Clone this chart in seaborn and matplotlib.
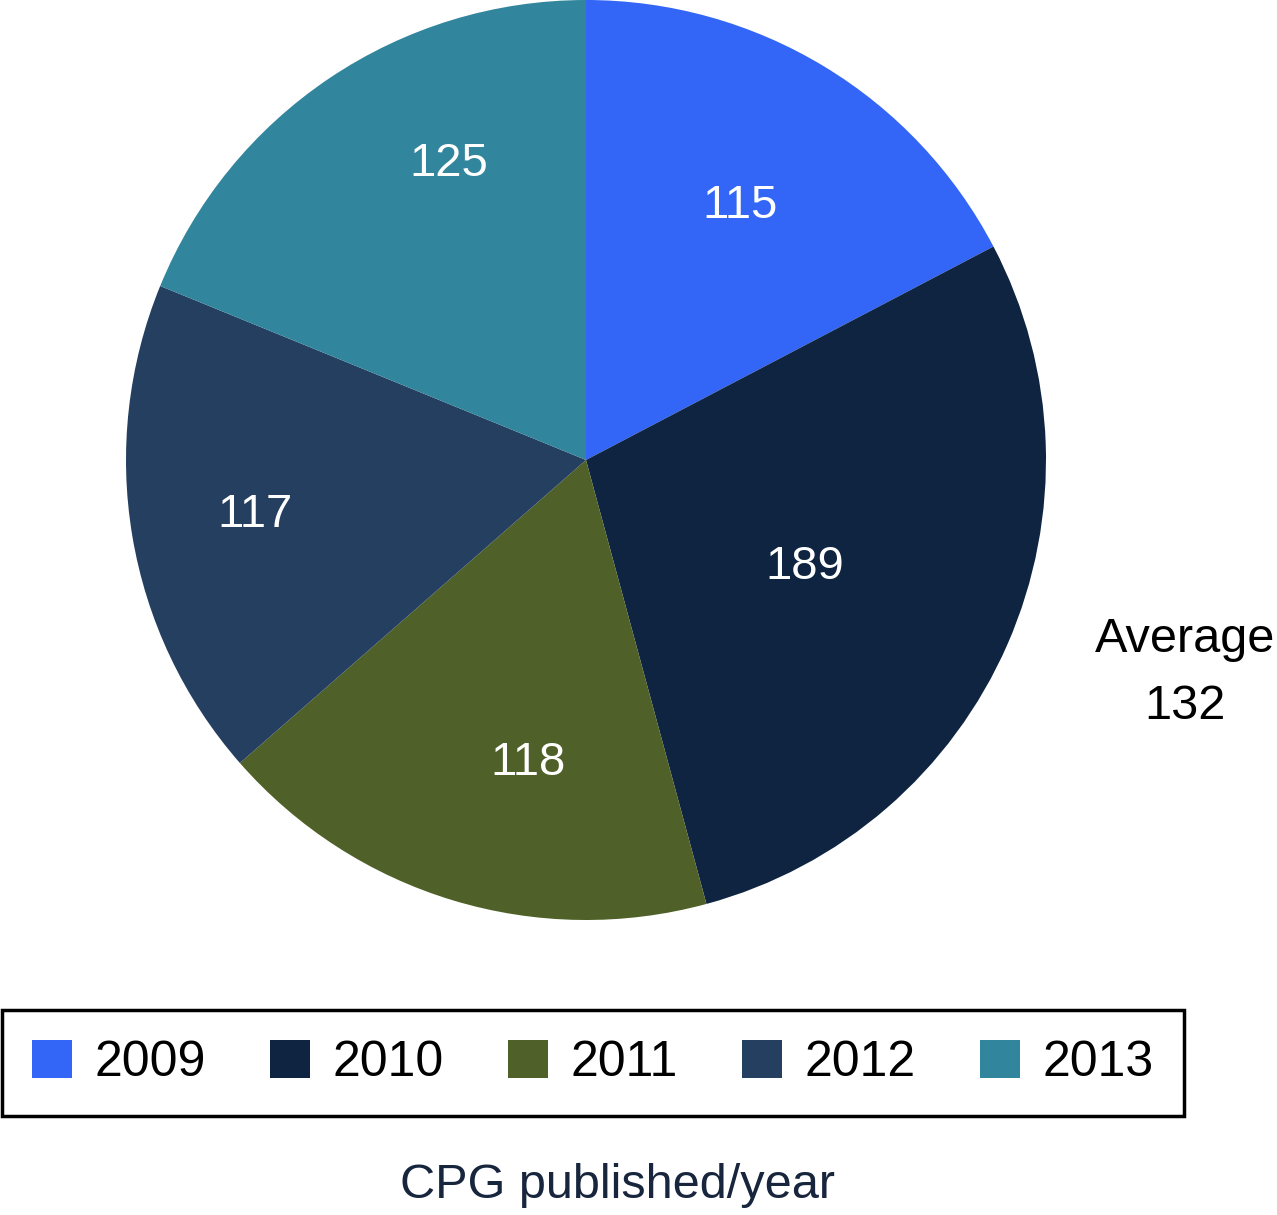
#!/usr/bin/env python3
"""
Pie chart of CPGs published per year (2009-2013)
"""

import numpy as np
import matplotlib
matplotlib.use("Agg")
import matplotlib.pyplot as plt
import seaborn as sns
from matplotlib.patches import Patch

# data
years = ['2009', '2010', '2011', '2012', '2013']
counts = [115, 189, 118, 117, 125]
average_label = 'Average'
average_value = 132
caption = 'CPG published/year'

colors = ['#3366f6', '#0f2440', '#4f6128', '#243f60', '#31859c']

# where each value label sits: fraction of radius, and degrees off the wedge middle
label_radius = [0.645, 0.53, 0.67, 0.73, 0.71]
label_shift = [0, -2.5, 6, 0, -9]

sns.set_theme(style='white')
plt.rcParams['font.family'] = ['Liberation Sans', 'DejaVu Sans']

W, H = 1277, 1215
fig = plt.figure(figsize=(W / 100, H / 100), dpi=100)
fig.patch.set_facecolor('white')

# pie axes: centre (586, 460) px, radius 460 px
cx, cy, r = 586, 460, 460
ax = fig.add_axes([(cx - r) / W, 1 - (cy + r) / H, 2 * r / W, 2 * r / H])
wedges, _ = ax.pie(
    counts,
    colors=colors,
    startangle=90,
    counterclock=False,
    radius=1,
    wedgeprops=dict(linewidth=0, edgecolor='none'),
)
ax.set_xlim(-1, 1)
ax.set_ylim(-1, 1)
ax.set_aspect('auto')
ax.axis('off')

# value labels near each wedge's middle angle
for w, val, rr, sh in zip(wedges, counts, label_radius, label_shift):
    mid = np.deg2rad((w.theta1 + w.theta2) / 2 + sh)
    ax.text(rr * np.cos(mid), rr * np.sin(mid), str(val),
            ha='center', va='center', color='white', fontsize=34)

# average on the right
fig.text(1185 / W, 1 - 673 / H, f'{average_label}\n{average_value}',
         ha='center', va='center', fontsize=35, color='black', linespacing=1.62)

# legend box
handles = [Patch(facecolor=c, edgecolor='none', label=y) for c, y in zip(colors, years)]
leg = fig.legend(
    handles=handles,
    loc='center',
    ncol=5,
    mode='expand',
    bbox_to_anchor=(2 / W, 1 - 1116 / H, 1182 / W, 106 / H),
    bbox_transform=fig.transFigure,
    fontsize=36,
    handlelength=0.8,
    handleheight=0.8,
    handletextpad=0.45,
    borderpad=0.6,
    borderaxespad=0,
    fancybox=False,
    frameon=True,
    framealpha=1,
)
frame = leg.get_frame()
frame.set_edgecolor('black')
frame.set_linewidth(2.5)
for t in leg.get_texts():
    t.set_color('black')

# caption
fig.text(618 / W, 1 - 1186 / H, caption, ha='center', va='center',
         fontsize=35, color='#17253d')

fig.savefig('out.png', dpi=100)
plt.close(fig)
